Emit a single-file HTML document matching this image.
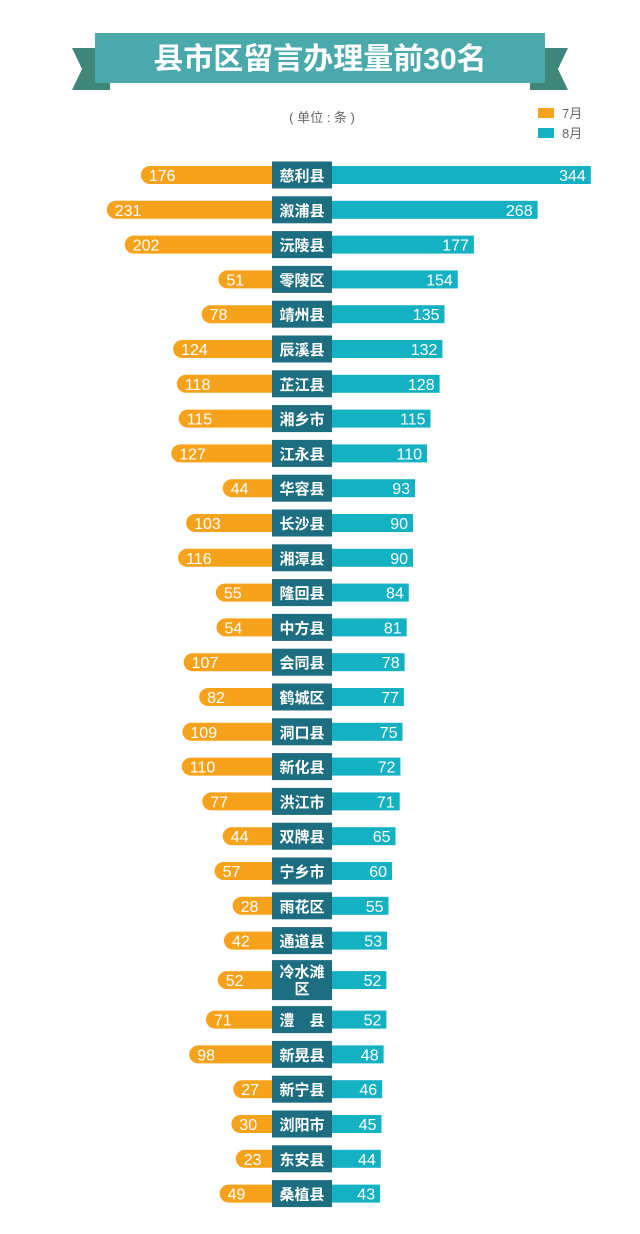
<!DOCTYPE html>
<html><head><meta charset="utf-8"><style>
body{margin:0;background:#fff;width:640px;height:1229px;overflow:hidden;font-family:"Liberation Sans","Noto Sans CJK SC",sans-serif;}
svg text{font-family:"Liberation Sans","Noto Sans CJK SC",sans-serif;}
</style></head><body>
<svg id="chart" width="640" height="1229" xmlns="http://www.w3.org/2000/svg">
<g>
<polygon points="72,48 110,48 110,90 72,90 82,69" fill="#3f8879"/>
<polygon points="568,48 530,48 530,90 568,90 558,69" fill="#3f8879"/>
<rect x="95" y="33" width="450" height="50" fill="#4aa9aa"/>
<text x="320" y="69" text-anchor="middle" font-size="30" font-weight="bold" fill="#fff">县市区留言办理量前30名</text>
</g>
<text x="322" y="122" text-anchor="middle" font-size="13" fill="#666">( 单位 : 条 )</text>
<g>
<rect x="538" y="108" width="16" height="10" fill="#f7a21b"/>
<text x="562" y="118" font-size="13" fill="#666">7月</text>
<rect x="538" y="128" width="16" height="10" fill="#14b1c3"/>
<text x="562" y="138" font-size="13" fill="#666">8月</text>
</g>
<g id="rows"></g>
</svg>
<script>
const categories=["慈利县","溆浦县","沅陵县","零陵区","靖州县","辰溪县","芷江县","湘乡市","江永县","华容县","长沙县","湘潭县","隆回县","中方县","会同县","鹤城区","洞口县","新化县","洪江市","双牌县","宁乡市","雨花区","通道县","冷水滩区","澧　县","新晃县","新宁县","浏阳市","东安县","桑植县"];
const julyValues=[176,231,202,51,78,124,118,115,127,44,103,116,55,54,107,82,109,110,77,44,57,28,42,52,71,98,27,30,23,49];
const augValues=[344,268,177,154,135,132,128,115,110,93,90,90,84,81,78,77,75,72,71,65,60,55,53,52,52,48,46,45,44,43];
const NS="http://www.w3.org/2000/svg";
const g=document.getElementById('rows');
function leftLen(v){return 22+0.62*v;}
function rightLen(v){return 18+0.70*v;}
function mk(t,a){const e=document.createElementNS(NS,t);for(const k in a)e.setAttribute(k,a[k]);return e;}
let y=175;
categories.forEach((c,i)=>{
  const tall=c.length>3&&c!=="澧　县";
  if(i>0){ y+= (tall||categories[i-1].length>3)? 39.5:34.8; }
  const row=mk('g',{});
  
  
  const ll=leftLen(julyValues[i]);
  const lb=mk('rect',{x:272-ll,y:y-9,width:ll+9,height:18,rx:9,fill:'#f7a21b'});
  
  
  row.appendChild(lb);
  const rl=rightLen(augValues[i]);
  const rb=mk('rect',{x:332,y:y-9,width:rl,height:18,fill:'#14b1c3'});
  
  
  row.appendChild(rb);
  const h=tall?40:27;
  const box=mk('rect',{x:272,y:y-h/2,width:60,height:h,fill:'#1c6e80'});
  
  
  row.appendChild(box);
  const lines=tall?[c.slice(0,3),c.slice(3)]:[c];
  lines.forEach((s,j)=>{
    const t=mk('text',{x:302,y:tall?y-3+j*17:y+6,'text-anchor':'middle','font-size':15,'font-weight':'bold',fill:'#fff'});
    t.textContent=s;
    
    
    row.appendChild(t);
  });
  const lt=mk('text',{x:272-ll+8,y:y+6,'font-size':16,fill:'#fff'});
  lt.textContent=julyValues[i];
  
  
  row.appendChild(lt);
  const rt=mk('text',{x:332+rl-5,y:y+6,'text-anchor':'end','font-size':16,fill:'#fff'});
  rt.textContent=augValues[i];
  
  
  row.appendChild(rt);
  g.appendChild(row);
});
</script>
</body></html>
